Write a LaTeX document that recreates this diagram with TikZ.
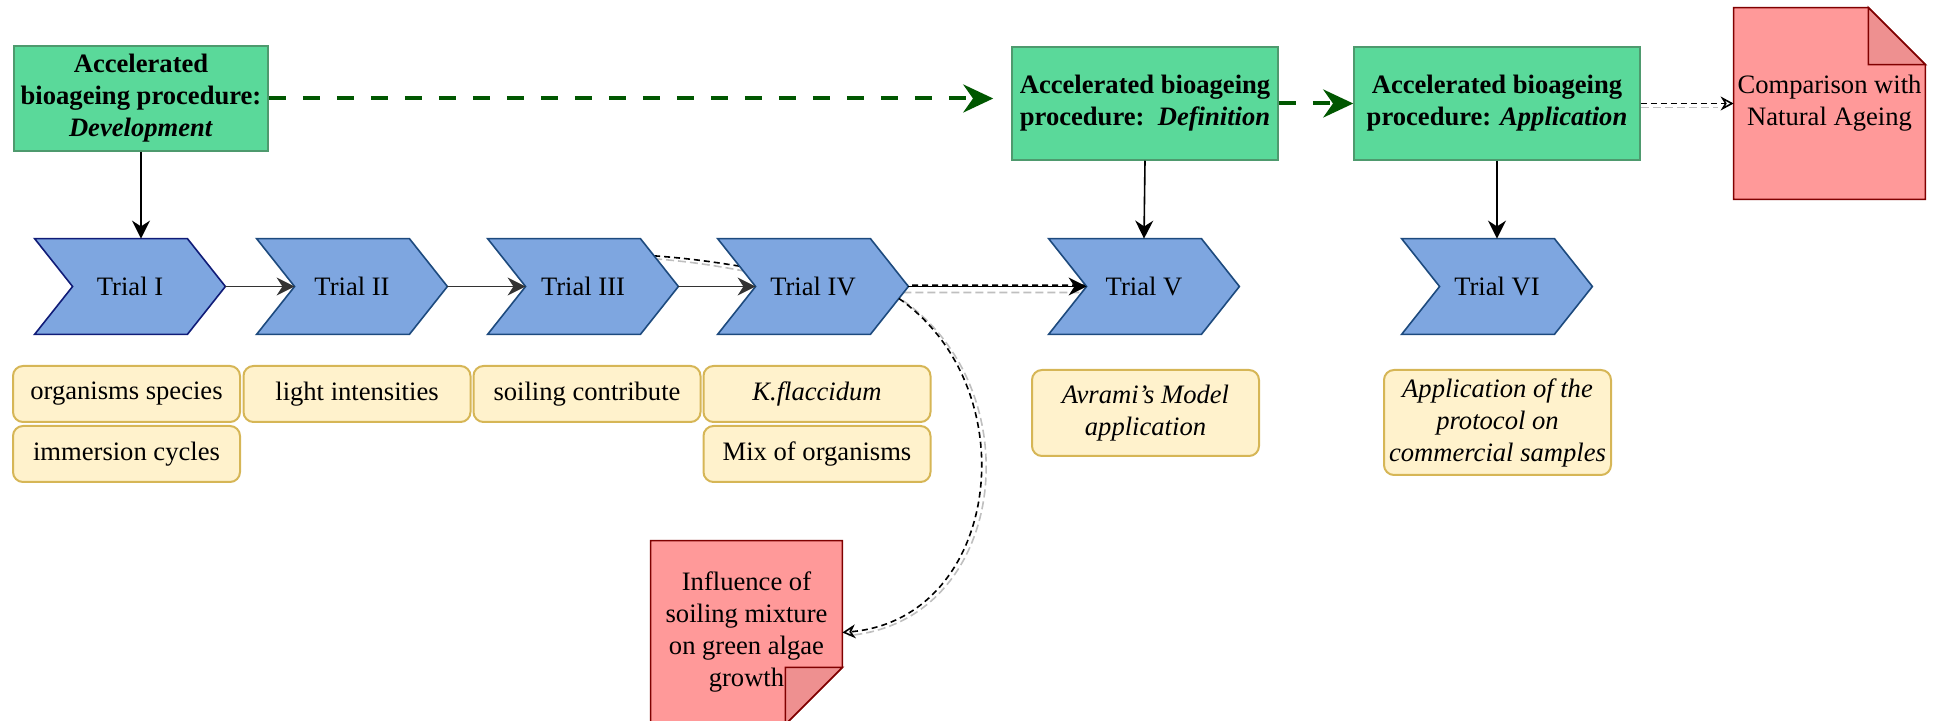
\documentclass[tikz,border=0pt]{standalone}
\usepackage{fontspec}
\setmainfont{Liberation Serif}
\usepackage{xcolor}
\usepackage{tikz}
\usetikzlibrary{positioning,arrows.meta,calc,backgrounds}

\definecolor{accfill}{HTML}{5AD99A}
\definecolor{accedge}{HTML}{4E9A6E}
\definecolor{trialfill}{HTML}{7EA6E0}
\definecolor{trialedge}{HTML}{1D4A7E}
\definecolor{trialedgeI}{HTML}{101C78}
\definecolor{notefill}{HTML}{FFF2CC}
\definecolor{noteedge}{HTML}{D6B656}
\definecolor{docfill}{HTML}{FF9999}
\definecolor{docfold}{HTML}{EE9090}
\definecolor{docedge}{HTML}{800000}
\definecolor{flowgreen}{HTML}{005700}

\begin{document}
\begin{tikzpicture}[x=0.5pt,y=-0.5pt,
  every node/.style={font=\fontsize{13.3}{16}\selectfont,align=center,inner sep=2pt},
  accblk/.style={rectangle,draw=accedge,line width=0.75pt,fill=accfill,
                 font=\fontsize{13.3}{16}\selectfont\bfseries},
  trial/.style={rectangle,minimum width=95pt,minimum height=47.5pt,inner sep=0pt},
  note/.style={rectangle,draw=noteedge,line width=1pt,rounded corners=5pt,
               fill=notefill,minimum width=113.5pt,minimum height=28pt},
  itnote/.style={note,font=\fontsize{13.3}{16}\selectfont\itshape},
  doc/.style={rectangle,minimum width=95.5pt,inner sep=0pt},
  chev/.style={fill=trialfill,line width=0.8pt,line join=miter},
  docshape/.style={fill=docfill,draw=docedge,line width=0.8pt},
  foldshape/.style={fill=docfold,draw=docedge,line width=0.8pt},
  arr/.style={-{Stealth[length=9pt,width=9pt]},line width=0.8pt,black},
  grarr/.style={-{Stealth[length=9pt,width=9pt]},line width=0.8pt,black!80},
  bigarr/.style={-{Stealth[length=15pt,width=14pt]},line width=2pt,flowgreen,
                 dash pattern=on 8.5pt off 8.5pt},
  dsharr/.style={-{Stealth[open,length=6.5pt,width=7pt]},line width=0.8pt,black,
                 dash pattern=on 3pt off 2pt},
  shadow/.style={line width=0.8pt,black!25,dash pattern=on 4pt off 2pt},
]
\useasboundingbox (0,0) rectangle (1934,721);
\clip (0,0) rectangle (1934,721);

\node[accblk,minimum width=127pt,minimum height=52.5pt] at (141,98.5)  (dev)
  {Accelerated\\bioageing procedure:\\\textit{Development}};
\node[accblk,minimum width=133pt,minimum height=56.5pt] at (1145,103.5) (def)
  {Accelerated bioageing\\procedure:\ \ \textit{Definition}};
\node[accblk,minimum width=143pt,minimum height=56.5pt] at (1497,103.5) (app)
  {Accelerated bioageing\\procedure: \textit{Application}};

\node[trial] at (130,286.5)  (t1) {Trial I};
\node[trial] at (352,286.5)  (t2) {Trial II};
\node[trial] at (583,286.5)  (t3) {Trial III};
\node[trial] at (813,286.5)  (t4) {Trial IV};
\node[trial] at (1144,286.5) (t5) {Trial V};
\node[trial] at (1497,286.5) (t6) {Trial VI};

\node[note]   at (126.5,394) (spec)  {organisms species};
\node[note,below=1pt of spec] (imm)  {immersion cycles};
\node[note]   at (357,394)   (light) {light intensities};
\node[note]   at (587,394)   (soil)  {soiling contribute};
\node[note]   at (817,394)   (kfl)   {\textit{K.flaccidum}};
\node[note,below=1pt of kfl]  (mix)  {Mix of organisms};
\node[itnote,minimum height=43pt]   at (1145.5,413)  (avr)
  {Avrami's Model\\application};
\node[itnote,minimum height=52.5pt] at (1497.5,422.5) (prot)
  {Application of the\\protocol on\\commercial samples};

\node[doc,minimum height=95.5pt] at (1829.5,103.5) (cmp)
  {Comparison with\\Natural Ageing};
\node[doc,minimum height=91.5pt] at (746.5,632.5)  (infl)
  {Influence of\\soiling mixture\\on green algae\\growth};

\foreach \i in {2,...,6}
  \coordinate (t\i-in) at ([xshift=19pt]t\i.west);
\coordinate (t3-top) at ([xshift=-19pt]t3.north east);
\coordinate (t3-out) at ($(t3-top)!0.36!(t3.east)$);
\coordinate (t4-bot) at ([xshift=-19pt]t4.south east);
\coordinate (t4-dn)  at ($(t4.east)!0.25!(t4-bot)$);

\begin{scope}[on background layer]
  % link III -> V, passes under IV
  \draw[shadow] ([yshift=-1.5pt]t3-out) to[out=-4,in=180]
    ([yshift=-3pt]t4.east) -- ([xshift=-3pt,yshift=-3pt]t5-in);
  \draw[line width=0.8pt,dash pattern=on 3pt off 2pt]
    (t3-out) to[out=-4,in=180] ([yshift=0.6pt]t4.east)
    -- ([yshift=0.6pt]t5-in);
  % chevrons
  \foreach \i/\e in {1/trialedgeI,2/trialedge,3/trialedge,4/trialedge,5/trialedge,6/trialedge}
    \draw[chev,draw=\e] (t\i.north west) -- ([xshift=-19pt]t\i.north east)
      -- (t\i.east) -- ([xshift=-19pt]t\i.south east) -- (t\i.south west)
      -- ([xshift=19pt]t\i.west) -- cycle;
  % documents
  \draw[docshape] (cmp.south west) -- (cmp.north west)
    -- ([xshift=-28.5pt]cmp.north east) -- ([yshift=-28.5pt]cmp.north east)
    -- (cmp.south east) -- cycle;
  \draw[foldshape] ([xshift=-28.5pt]cmp.north east)
    -- ([xshift=-28.5pt,yshift=-28.5pt]cmp.north east)
    -- ([yshift=-28.5pt]cmp.north east) -- cycle;
  \draw[docshape] (infl.north west) -- (infl.north east)
    -- ([yshift=28.5pt]infl.south east) -- ([xshift=-28.5pt]infl.south east)
    -- (infl.south west) -- cycle;
  \draw[foldshape] ([yshift=28.5pt]infl.south east)
    -- ([xshift=-28.5pt,yshift=28.5pt]infl.south east)
    -- ([xshift=-28.5pt]infl.south east) -- cycle;
\end{scope}

\draw[bigarr,shorten >=9pt] (dev.east) -- (dev.east -| def.west);
\draw[bigarr] (def.east) -- (app.west);
\draw[shadow] ([yshift=-2pt]app.east) -- ([xshift=-8pt,yshift=-2pt]cmp.west);
\draw[dsharr] (app.east) -- (cmp.west);

\draw[arr] (dev.south) -- (dev.south |- t1.north);
\draw[arr] (def.south) -- (t5.north);
\draw[arr] (app.south) -- (t6.north);

\foreach \a/\b in {1/2,2/3,3/4}
  \draw[grarr] (t\a.east) -- (t\b-in);
\draw[arr] (t4.east) -- (t5-in);

\draw[shadow] ([xshift=2pt,yshift=-1pt]t4-dn) to[out=-35,in=5,looseness=1.2]
  ([xshift=3pt,yshift=-1.5pt]infl.east);
\draw[dsharr] (t4-dn) to[out=-35,in=5,looseness=1.2] (infl.east);
\end{tikzpicture}
\end{document}
